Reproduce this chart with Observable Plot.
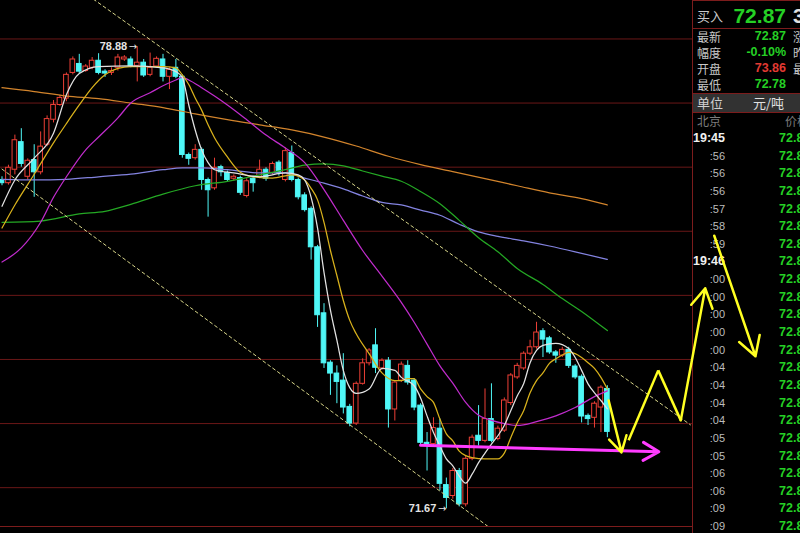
<!DOCTYPE html>
<html>
<head>
<meta charset="utf-8">
<script src="https://cdn.jsdelivr.net/npm/d3@7"></script>
<script src="https://cdn.jsdelivr.net/npm/@observablehq/plot@0.6"></script>
<style>
  html, body { margin: 0; padding: 0; background: #000; }
  #wrap { position: relative; width: 800px; height: 533px; overflow: hidden; background: #000;
          font-family: "Liberation Sans", Arial, sans-serif; }
  #chart, #overlay { position: absolute; left: 0; top: 0; }
  #chart { z-index: 1; }
  #overlay { z-index: 3; pointer-events: none; }
  #floor { position: absolute; left: 0; top: 526px; width: 692px; height: 1px; background: #7c1c1c; z-index: 2; }
  #panel { position: absolute; left: 692px; top: 0; width: 107px; height: 533px; background: #000;
           border-left: 1px solid #7c1c1c; border-top: 1px solid #7c1c1c; box-sizing: content-box;
           z-index: 2; overflow: hidden; color: #c4c4c4; }
  #panel .cell { position: absolute; white-space: nowrap; }
  #panel .cjk { font-family: "Noto Sans CJK SC", sans-serif; font-size: 12px; }
  #panel .num { font-family: "Liberation Sans", Arial, sans-serif; font-weight: bold; }
  #panel .sep { position: absolute; left: 0; width: 107px; height: 1px; background: #7c1c1c; }
</style>
</head>
<body>
<div id="wrap">
  <div id="chart"></div>
  <div id="floor"></div>
  <div id="panel"></div>
  <div id="overlay"></div>
</div>
<script>
// ---- Price bars (bar index 0..94), 元/吨 ----
const opens  = [76.80,76.75,76.96,77.39,76.85,77.11,76.92,77.35,77.74,77.97,78.07,78.47,78.61,78.50,78.55,78.66,78.49,78.47,78.55,78.68,
                78.68,78.58,78.63,78.44,78.57,78.68,78.41,78.55,78.41,77.19,77.14,77.27,76.80,76.67,77.00,76.91,76.82,76.83,76.55,76.82,
                76.85,76.96,76.91,77.07,76.80,77.22,76.80,76.56,76.35,75.75,74.72,73.95,73.78,73.67,73.26,73.00,73.62,73.94,74.22,73.86,
                73.98,73.22,73.67,73.90,73.67,73.28,72.70,72.68,72.92,72.04,71.87,72.26,71.74,72.45,72.81,72.73,73.07,72.76,72.89,73.32,
                73.72,73.86,74.09,74.19,74.44,74.33,74.11,74.06,74.15,73.89,73.73,73.12,73.09,73.25,73.54];
const highs  = [76.85,77.03,77.50,77.60,77.13,77.35,77.55,77.80,78.04,78.12,78.47,78.72,78.76,78.60,78.71,78.77,78.52,78.55,78.76,78.74,
                78.72,78.88,78.68,78.78,78.72,78.76,78.55,78.68,78.44,77.22,77.35,77.30,76.83,77.14,77.03,76.94,76.88,76.86,76.82,76.85,
                77.11,76.99,77.08,77.10,77.30,77.33,76.83,76.60,76.38,75.78,74.87,73.98,73.90,74.09,73.30,73.65,74.01,74.17,74.48,74.01,
                74.03,73.67,73.96,73.98,73.70,73.31,72.86,73.09,73.07,72.15,72.30,72.30,72.49,72.82,73.28,73.54,73.62,72.96,73.40,73.78,
                73.94,74.12,74.30,74.58,74.48,74.36,74.14,74.19,74.19,73.92,73.76,73.15,73.34,73.59,73.59];
const lows   = [76.71,76.72,76.88,77.00,76.80,76.53,76.88,77.32,77.69,77.95,78.02,78.44,78.46,78.48,78.52,78.44,78.40,78.43,78.50,78.65,
                78.55,78.33,78.40,78.41,78.55,78.33,78.21,78.38,77.14,77.03,77.11,76.64,76.22,76.64,76.85,76.77,76.78,76.56,76.52,76.61,
                76.82,76.78,76.88,76.86,76.77,76.77,76.49,76.30,75.55,74.50,73.86,73.44,73.31,73.15,72.95,72.97,73.60,73.90,73.78,73.83,
                72.93,73.04,73.64,73.60,73.20,72.65,72.26,72.65,71.95,71.67,71.82,71.70,71.70,72.42,72.65,72.70,72.70,72.73,72.86,73.28,
                73.69,73.83,74.06,74.16,74.03,74.08,73.94,74.03,73.86,73.69,73.01,72.97,72.93,72.86,72.78];
const closes = [76.75,76.99,77.42,77.05,77.10,76.92,77.32,77.75,77.97,78.08,78.44,78.68,78.49,78.57,78.66,78.47,78.46,78.50,78.71,78.71,
                78.58,78.63,78.43,78.55,78.69,78.41,78.52,78.41,77.19,77.13,77.27,76.80,76.64,76.99,76.92,76.80,76.85,76.60,76.78,76.75,
                76.96,76.82,77.05,76.91,77.25,76.80,76.53,76.33,75.75,74.69,73.94,73.78,73.65,73.25,73.00,73.62,73.94,74.14,73.87,73.98,
                73.22,73.64,73.92,73.64,73.25,72.70,72.67,72.93,72.06,71.84,72.26,71.74,72.45,72.78,72.73,73.07,72.73,72.92,73.36,73.75,
                73.90,74.09,74.19,74.42,74.31,74.11,74.06,74.15,73.90,73.72,73.11,73.07,73.31,73.56,72.87];

// ---- Moving averages, [bar index, price] ----
const ma5 = [[0,76.39],[2,76.80],[5,77.14],[8,77.53],[10,78.13],[12,78.46],[15,78.57],[20,78.58],[25,78.55],[27,78.49],[28,78.40],
  [29,77.97],[30,77.58],[31,77.27],[32,77.07],[33,76.96],[36,76.91],[40,76.85],[44,76.91],[46,76.88],[47,76.80],[48,76.53],[49,76.05],
  [50,75.36],[51,74.77],[52,74.30],[53,73.83],[54,73.56],[55,73.47],[57,73.54],[59,73.86],[61,73.83],[62,73.72],[64,73.59],[65,73.40],
  [66,73.12],[67,72.86],[68,72.65],[69,72.45],[70,72.34],[71,72.18],[72,72.07],[73,72.21],[74,72.39],[75,72.54],[76,72.68],[77,72.81],
  [78,72.97],[79,73.20],[80,73.43],[81,73.62],[82,73.95],[83,74.14],[84,74.22],[86,74.25],[88,74.17],[89,74.03],[90,73.83],[91,73.62],
  [92,73.48],[93,73.36],[94,73.23]];
const ma10 = [[0,76.05],[2,76.41],[5,76.89],[8,77.38],[10,77.68],[12,77.97],[14,78.24],[16,78.44],[18,78.54],[20,78.57],[25,78.57],
  [27,78.55],[28,78.44],[29,78.29],[30,78.08],[31,77.89],[32,77.66],[33,77.46],[35,77.16],[37,76.92],[39,76.85],[42,76.83],[45,76.88],
  [47,76.80],[48,76.67],[49,76.49],[50,76.14],[51,75.70],[52,75.31],[53,74.92],[54,74.61],[55,74.40],[57,74.09],[59,73.79],[61,73.67],
  [62,73.67],[63,73.70],[64,73.70],[65,73.54],[66,73.42],[67,73.33],[68,73.07],[69,72.84],[70,72.73],[71,72.57],[72,72.50],[73,72.47],
  [75,72.45],[77,72.45],[78,72.54],[79,72.78],[80,73.01],[81,73.20],[82,73.48],[83,73.67],[84,73.79],[85,73.94],[86,74.01],[87,74.07],
  [88,74.11],[89,74.09],[90,74.03],[91,73.95],[92,73.86],[93,73.72],[94,73.54]];
const ma20 = [[0,75.52],[3,75.74],[6,76.14],[8,76.53],[10,76.85],[13,77.27],[15,77.47],[18,77.77],[20,78.00],[23,78.16],[25,78.27],
  [27,78.36],[28,78.40],[29,78.36],[31,78.24],[33,78.11],[35,77.97],[38,77.74],[41,77.50],[44,77.30],[47,77.07],[50,76.65],[53,76.17],
  [56,75.70],[59,75.30],[62,74.89],[64,74.58],[66,74.24],[68,73.90],[70,73.63],[72,73.33],[74,73.13],[76,73.05],[78,73.00],[80,72.97],
  [83,73.03],[86,73.12],[89,73.25],[92,73.42],[94,73.51]];
const ma60 = [[0,76.14],[6,76.16],[12,76.27],[16,76.31],[20,76.42],[25,76.58],[30,76.71],[35,76.78],[40,76.88],[44,76.96],[47,77.03],
  [50,77.05],[53,77.02],[56,76.94],[59,76.86],[62,76.78],[65,76.62],[68,76.43],[71,76.17],[74,75.90],[77,75.68],[80,75.42],[84,75.17],
  [87,74.95],[90,74.75],[94,74.45]];
const ma120 = [[0,76.81],[5,76.80],[10,76.81],[15,76.85],[20,76.89],[25,76.96],[28,76.99],[31,76.99],[35,76.96],[40,76.91],[44,76.91],
  [47,76.83],[50,76.75],[53,76.66],[56,76.55],[59,76.45],[62,76.41],[65,76.33],[68,76.25],[71,76.11],[74,75.99],[77,75.92],[81,75.85],
  [85,75.77],[89,75.68],[94,75.56]];
const ma250 = [[0,78.24],[5,78.18],[10,78.11],[15,78.07],[20,78.00],[25,77.93],[30,77.83],[35,77.74],[40,77.66],[45,77.58],[50,77.47],
  [55,77.33],[60,77.17],[65,77.04],[70,76.93],[75,76.82],[80,76.71],[85,76.60],[90,76.51],[94,76.41]];

// ---- Hand-drawn annotations, [bar index, price] ----
const channelUpper = [[14.2,79.62],[106.9,72.98]];
const channelLower = [[0,76.97],[75.4,71.40]];
const supportArrow = [[65,72.66],[102,72.56]];
const waveLegs = [
  {from:[94.2,73.36], to:[96.2,72.55], head:true},
  {from:[97.3,72.74], to:[101.9,73.83], head:false},
  {from:[101.9,73.83], to:[105.4,73.05], head:false},
  {from:[105.4,73.05], to:[109.2,75.11], head:true},
  {from:[110.6,75.93], to:[117.0,74.05], head:true}
];

// ---- Price grid ----
const gridPrices = [72, 73, 74, 75, 76, 77, 78, 79];

// ---- Quote panel ----
const quoteLast = 72.87;
const quoteLabels = ["最新", "幅度", "开盘", "最低"];
const quoteValues = [72.87, -0.10, 73.86, 72.78];
const quoteSide = ["涨跌", "昨收", "最高", ""];
const unitText = "元/吨";
const tickTimes = ["19:45",":56",":56",":56",":57",":58",":59","19:46",":00",":00",":00",":00",":00",
                   ":04",":04",":04",":04",":05",":05",":06",":06",":09",":09"];
const tickPrices = [72.87,72.88,72.87,72.88,72.87,72.88,72.86,72.87,72.87,72.88,72.87,72.86,72.87,
                    72.88,72.87,72.87,72.88,72.87,72.86,72.87,72.88,72.87,72.86];

// ---- Colours ----
const RED = "#ec3f36", CYAN = "#4ff7f7", BG = "#000";
const GREEN_TXT = "#25d025", RED_TXT = "#e23a32";

// ---- Scales shared by the chart and the overlay (6.44 px per bar) ----
const xDomain = [-0.233, 123.99];
const yDomain = [71.285, 79.60];
const frame = marks => Plot.plot({
  width: 800, height: 533, margin: 0,
  x: {domain: xDomain, axis: null},
  y: {domain: yDomain, axis: null},
  style: {background: "transparent", overflow: "visible"},
  marks
});

const bars = closes.map((c, i) => ({i, open: opens[i], high: highs[i], low: lows[i], close: c}));
const upBars = bars.filter(d => d.close >= d.open);
const downBars = bars.filter(d => d.close < d.open);
const hiBar = bars.reduce((a, b) => b.high > a.high ? b : a);
const loBar = bars.reduce((a, b) => b.low < a.low ? b : a);
const half = 0.36;

const maLine = (data, stroke) => Plot.line(data, {x: d => d[0], y: d => d[1], stroke, strokeWidth: 1.25, curve: "monotone-x"});
const dashed = data => Plot.line(data, {x: d => d[0], y: d => d[1], stroke: "#d8d68a", strokeWidth: 1, strokeDasharray: "3,3"});
const numFont = "Liberation Sans, Arial, sans-serif";
const extremeLabel = (bar, key) => [
  Plot.text([bar], {x: "i", y: key, text: d => d[key].toFixed(2), textAnchor: "end", dx: -10,
    fill: "#e4e4e4", fontSize: 11, fontWeight: "bold", fontFamily: numFont}),
  Plot.text([bar], {x: "i", y: key, text: () => "→", textAnchor: "end", dx: 0,
    fill: "#e4e4e4", fontSize: 10, fontFamily: "DejaVu Sans, sans-serif"})
];

const chart = frame([
  Plot.ruleY(gridPrices, {stroke: "#6a1717", strokeWidth: 1}),
  // wicks
  Plot.ruleX(upBars, {x: "i", y1: "low", y2: "high", stroke: RED, strokeWidth: 1}),
  Plot.ruleX(downBars, {x: "i", y1: "low", y2: "high", stroke: CYAN, strokeWidth: 1}),
  // bodies: rising bars hollow red, falling bars solid cyan
  Plot.rect(upBars, {x1: d => d.i - half, x2: d => d.i + half, y1: "open", y2: "close", fill: BG, stroke: RED, strokeWidth: 1}),
  Plot.rect(downBars, {x1: d => d.i - half, x2: d => d.i + half, y1: "open", y2: "close", fill: CYAN, stroke: CYAN, strokeWidth: 1}),
  // moving averages
  maLine(ma250, "#d2842c"),
  maLine(ma120, "#8383e0"),
  maLine(ma60, "#24a824"),
  maLine(ma20, "#c02ccc"),
  maLine(ma10, "#d9b21c"),
  maLine(ma5, "#e2e2e2"),
  // trend channel
  dashed(channelUpper),
  dashed(channelLower),
  // extreme labels
  ...extremeLabel(hiBar, "high"),
  ...extremeLabel(loBar, "low"),
  // support arrow
  Plot.arrow([supportArrow], {x1: d => d[0][0], y1: d => d[0][1], x2: d => d[1][0], y2: d => d[1][1],
    stroke: "#ff3cff", strokeWidth: 3, headLength: 9})
]);
document.getElementById("chart").appendChild(chart);

// expected path, drawn above the quote panel
const overlay = frame([
  Plot.link(waveLegs.filter(d => !d.head), {x1: d => d.from[0], y1: d => d.from[1], x2: d => d.to[0], y2: d => d.to[1],
    stroke: "#ffff22", strokeWidth: 2.5}),
  Plot.arrow(waveLegs.filter(d => d.head), {x1: d => d.from[0], y1: d => d.from[1], x2: d => d.to[0], y2: d => d.to[1],
    stroke: "#ffff22", strokeWidth: 2.5, headLength: 13})
]);
document.getElementById("overlay").appendChild(overlay);

// ---- Quote panel ----
const panel = document.getElementById("panel");
function cell(text, cls, style) {
  const el = document.createElement("div");
  el.className = "cell " + cls;
  el.textContent = text;
  Object.assign(el.style, style);
  panel.appendChild(el);
  return el;
}
function sep(top) {
  const el = document.createElement("div");
  el.className = "sep";
  el.style.top = top + "px";
  panel.appendChild(el);
}
const prevClose = quoteLast / (1 + quoteValues[1] / 100);
const tone = v => v > prevClose ? RED_TXT : GREEN_TXT;

// header row
cell("买入", "cjk", {left: "4px", top: "6px", lineHeight: "18px", fontSize: "13px", color: "#c8c8c8"});
cell(quoteLast.toFixed(2), "num", {right: "14px", top: "4px", fontSize: "21px", lineHeight: "22px", color: tone(quoteLast)});
cell("3", "num", {left: "100px", top: "4px", fontSize: "21px", lineHeight: "22px", color: "#e0e0e0"});
sep(27);

quoteLabels.forEach((label, k) => {
  const top = 28 + k * 16;
  const v = quoteValues[k];
  const txt = label === "幅度" ? v.toFixed(2) + "%" : v.toFixed(2);
  const col = label === "幅度" ? (v < 0 ? GREEN_TXT : RED_TXT) : tone(v);
  cell(label, "cjk", {left: "4px", top: top + "px", lineHeight: "15px", color: "#c8c8c8"});
  cell(txt, "num", {right: "14px", top: top + "px", fontSize: "12.5px", lineHeight: "15px", color: col});
  cell(quoteSide[k], "cjk", {left: "100px", top: top + "px", lineHeight: "15px", color: "#c8c8c8"});
});

// unit row
const unitBar = document.createElement("div");
Object.assign(unitBar.style, {position: "absolute", left: "0", top: "92px", width: "107px", height: "18px",
  background: "#323232", borderTop: "1px solid #7c1c1c", borderBottom: "1px solid #7c1c1c"});
panel.appendChild(unitBar);
cell("单位", "cjk", {left: "4px", top: "93px", lineHeight: "18px", fontSize: "13px", color: "#d0d0d0"});
cell(unitText, "cjk", {left: "60px", top: "93px", lineHeight: "18px", fontSize: "13px", color: "#e0e0e0"});

// tick list
cell("北京", "cjk", {left: "4px", top: "112px", lineHeight: "16px", color: "#7c7c7c"});
cell("价格", "cjk", {left: "92px", top: "112px", lineHeight: "16px", color: "#7c7c7c"});
tickTimes.forEach((t, k) => {
  const top = 137 + k * 17.64 - 8;
  const full = t.length > 3;
  cell(t, "num", {left: "0px", width: "32px", textAlign: "right", top: top + "px", lineHeight: "16px",
    fontSize: full ? "12.5px" : "11px", fontWeight: full ? "bold" : "normal", color: full ? "#f0f0f0" : "#bcbcbc"});
  cell(tickPrices[k].toFixed(2), "num", {left: "86px", top: top + "px", lineHeight: "16px", fontSize: "12.5px", color: GREEN_TXT});
});
</script>
</body>
</html>
